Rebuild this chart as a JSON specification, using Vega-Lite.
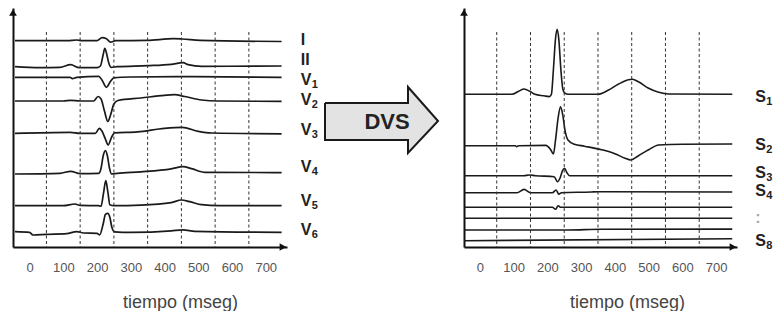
{
 "$schema": "https://vega.github.io/schema/vega-lite/v6.json",
 "background": "white",
 "padding": {"left": 9, "top": 8, "right": 0, "bottom": 0},
 "bounds": "flush",
 "spacing": 20,
 "config": {"view": {"stroke": null}, "axis": {"grid": false, "labelOverlap": false}},
 "datasets": {
  "grid": [{"t":50},{"t":150},{"t":250},{"t":350},{"t":450},{"t":550},{"t":650}],
  "leftHeads": [{"t":-49,"y":234.5,"dir":"up"},{"t":751,"y":0,"dir":"right"}],
  "rightHeads": [{"t":-47,"y":234.5,"dir":"up"},{"t":750,"y":0,"dir":"right"}],
  "left": [
   {"lead":"I","t":-43,"y":206.3},{"lead":"I","t":112,"y":206.3},{"lead":"I","t":140,"y":207.0},{"lead":"I","t":155,"y":206.3},{"lead":"I","t":200,"y":206.3},{"lead":"I","t":215,"y":209.3},{"lead":"I","t":228,"y":208.3},{"lead":"I","t":240,"y":204.8},{"lead":"I","t":255,"y":206.3},{"lead":"I","t":348,"y":206.6},{"lead":"I","t":427,"y":208.3},{"lead":"I","t":452,"y":208.0},{"lead":"I","t":506,"y":206.6},{"lead":"I","t":747,"y":205.5},
   {"lead":"II","t":-43,"y":180.3},{"lead":"II","t":30,"y":179.3},{"lead":"II","t":90,"y":179.7},{"lead":"II","t":122,"y":182.3},{"lead":"II","t":147,"y":179.3},{"lead":"II","t":200,"y":179.3},{"lead":"II","t":210,"y":181},{"lead":"II","t":218,"y":192},{"lead":"II","t":223,"y":198.7},{"lead":"II","t":228,"y":194},{"lead":"II","t":234,"y":185},{"lead":"II","t":242,"y":179.7},{"lead":"II","t":260,"y":180.3},{"lead":"II","t":350,"y":181.3},{"lead":"II","t":420,"y":182.7},{"lead":"II","t":455,"y":184.3},{"lead":"II","t":470,"y":182.3},{"lead":"II","t":510,"y":180.7},{"lead":"II","t":747,"y":181},
   {"lead":"V1","t":-43,"y":169.7},{"lead":"V1","t":120,"y":169.7},{"lead":"V1","t":127,"y":168.4},{"lead":"V1","t":140,"y":169.7},{"lead":"V1","t":205,"y":170.7},{"lead":"V1","t":215,"y":166.7},{"lead":"V1","t":228,"y":159.7},{"lead":"V1","t":240,"y":165.7},{"lead":"V1","t":250,"y":169.2},{"lead":"V1","t":300,"y":170},{"lead":"V1","t":440,"y":170.4},{"lead":"V1","t":747,"y":169.7},
   {"lead":"V2","t":-43,"y":146},{"lead":"V2","t":100,"y":146},{"lead":"V2","t":122,"y":146.7},{"lead":"V2","t":150,"y":146},{"lead":"V2","t":190,"y":146},{"lead":"V2","t":203,"y":150.5},{"lead":"V2","t":212,"y":148},{"lead":"V2","t":222,"y":136},{"lead":"V2","t":232,"y":125.5},{"lead":"V2","t":240,"y":132},{"lead":"V2","t":250,"y":143},{"lead":"V2","t":262,"y":146.5},{"lead":"V2","t":330,"y":149},{"lead":"V2","t":400,"y":151.7},{"lead":"V2","t":430,"y":152.3},{"lead":"V2","t":460,"y":150.5},{"lead":"V2","t":510,"y":147},{"lead":"V2","t":560,"y":146},{"lead":"V2","t":747,"y":145.7},
   {"lead":"V3","t":-43,"y":113.7},{"lead":"V3","t":120,"y":114.7},{"lead":"V3","t":150,"y":113.7},{"lead":"V3","t":195,"y":113.7},{"lead":"V3","t":207,"y":118.7},{"lead":"V3","t":215,"y":115.7},{"lead":"V3","t":224,"y":108.7},{"lead":"V3","t":233,"y":102.2},{"lead":"V3","t":243,"y":109.7},{"lead":"V3","t":252,"y":114.2},{"lead":"V3","t":320,"y":115.2},{"lead":"V3","t":400,"y":118.7},{"lead":"V3","t":452,"y":119.7},{"lead":"V3","t":500,"y":115.7},{"lead":"V3","t":540,"y":114},{"lead":"V3","t":747,"y":113.2},
   {"lead":"V4","t":-43,"y":73},{"lead":"V4","t":90,"y":73.7},{"lead":"V4","t":122,"y":75.7},{"lead":"V4","t":150,"y":73.4},{"lead":"V4","t":205,"y":73.7},{"lead":"V4","t":212,"y":78.7},{"lead":"V4","t":218,"y":90.7},{"lead":"V4","t":225,"y":96.4},{"lead":"V4","t":231,"y":90.7},{"lead":"V4","t":237,"y":78.7},{"lead":"V4","t":243,"y":73},{"lead":"V4","t":260,"y":73.7},{"lead":"V4","t":330,"y":75.2},{"lead":"V4","t":420,"y":78.2},{"lead":"V4","t":455,"y":80.4},{"lead":"V4","t":480,"y":78.4},{"lead":"V4","t":520,"y":74.7},{"lead":"V4","t":747,"y":74.4},
   {"lead":"V5","t":-43,"y":41.3},{"lead":"V5","t":100,"y":41.3},{"lead":"V5","t":135,"y":43},{"lead":"V5","t":150,"y":41.6},{"lead":"V5","t":205,"y":41.3},{"lead":"V5","t":212,"y":40.8},{"lead":"V5","t":219,"y":53.3},{"lead":"V5","t":226,"y":66.3},{"lead":"V5","t":232,"y":55.3},{"lead":"V5","t":238,"y":42.3},{"lead":"V5","t":250,"y":41.3},{"lead":"V5","t":330,"y":41.8},{"lead":"V5","t":420,"y":44.3},{"lead":"V5","t":450,"y":47},{"lead":"V5","t":475,"y":45.3},{"lead":"V5","t":510,"y":42.3},{"lead":"V5","t":560,"y":41.3},{"lead":"V5","t":747,"y":41.3},
   {"lead":"V6","t":-43,"y":15.4},{"lead":"V6","t":0,"y":14.7},{"lead":"V6","t":10,"y":12},{"lead":"V6","t":50,"y":12.7},{"lead":"V6","t":110,"y":13.4},{"lead":"V6","t":140,"y":15.4},{"lead":"V6","t":160,"y":14},{"lead":"V6","t":200,"y":13.7},{"lead":"V6","t":208,"y":12.2},{"lead":"V6","t":218,"y":22.7},{"lead":"V6","t":225,"y":32.7},{"lead":"V6","t":232,"y":33.7},{"lead":"V6","t":238,"y":29.7},{"lead":"V6","t":244,"y":19.7},{"lead":"V6","t":252,"y":15.2},{"lead":"V6","t":300,"y":14.7},{"lead":"V6","t":420,"y":16.2},{"lead":"V6","t":455,"y":17.2},{"lead":"V6","t":490,"y":15.7},{"lead":"V6","t":747,"y":14.7}
  ],
  "right": [
   {"lead":"S1","t":-47,"y":152.7},{"lead":"S1","t":95,"y":152.7},{"lead":"S1","t":115,"y":155.7},{"lead":"S1","t":131,"y":158},{"lead":"S1","t":148,"y":155.7},{"lead":"S1","t":163,"y":152.7},{"lead":"S1","t":190,"y":151.2},{"lead":"S1","t":205,"y":150.4},{"lead":"S1","t":212,"y":152.7},{"lead":"S1","t":218,"y":177.7},{"lead":"S1","t":224,"y":207.7},{"lead":"S1","t":229,"y":217.7},{"lead":"S1","t":234,"y":207.7},{"lead":"S1","t":240,"y":177.7},{"lead":"S1","t":246,"y":157.7},{"lead":"S1","t":252,"y":153.7},{"lead":"S1","t":262,"y":152.7},{"lead":"S1","t":350,"y":152.7},{"lead":"S1","t":380,"y":156.7},{"lead":"S1","t":410,"y":162.7},{"lead":"S1","t":440,"y":167.2},{"lead":"S1","t":452,"y":167.7},{"lead":"S1","t":470,"y":165.2},{"lead":"S1","t":500,"y":158.7},{"lead":"S1","t":530,"y":154.7},{"lead":"S1","t":560,"y":153},{"lead":"S1","t":748,"y":152.7},
   {"lead":"S2","t":-47,"y":101.3},{"lead":"S2","t":105,"y":101.3},{"lead":"S2","t":109,"y":100.3},{"lead":"S2","t":115,"y":101.3},{"lead":"S2","t":195,"y":101.6},{"lead":"S2","t":210,"y":97.3},{"lead":"S2","t":218,"y":93},{"lead":"S2","t":224,"y":106.3},{"lead":"S2","t":232,"y":129.3},{"lead":"S2","t":239,"y":140.3},{"lead":"S2","t":245,"y":133.3},{"lead":"S2","t":253,"y":115.3},{"lead":"S2","t":261,"y":107},{"lead":"S2","t":280,"y":102.8},{"lead":"S2","t":310,"y":100.8},{"lead":"S2","t":360,"y":97.3},{"lead":"S2","t":400,"y":93.3},{"lead":"S2","t":430,"y":88.8},{"lead":"S2","t":447,"y":87},{"lead":"S2","t":470,"y":91.3},{"lead":"S2","t":500,"y":97.3},{"lead":"S2","t":530,"y":102},{"lead":"S2","t":600,"y":102.8},{"lead":"S2","t":748,"y":103},
   {"lead":"S3","t":-47,"y":71.3},{"lead":"S3","t":130,"y":71.3},{"lead":"S3","t":146,"y":72},{"lead":"S3","t":165,"y":71.3},{"lead":"S3","t":220,"y":70.3},{"lead":"S3","t":230,"y":65.3},{"lead":"S3","t":238,"y":69.3},{"lead":"S3","t":245,"y":76.3},{"lead":"S3","t":251,"y":78.6},{"lead":"S3","t":258,"y":74.3},{"lead":"S3","t":266,"y":71.3},{"lead":"S3","t":748,"y":71.3},
   {"lead":"S4","t":-47,"y":54.3},{"lead":"S4","t":110,"y":54.3},{"lead":"S4","t":131,"y":57.6},{"lead":"S4","t":150,"y":54.3},{"lead":"S4","t":215,"y":54.3},{"lead":"S4","t":226,"y":57},{"lead":"S4","t":234,"y":52.8},{"lead":"S4","t":242,"y":54.3},{"lead":"S4","t":330,"y":55},{"lead":"S4","t":350,"y":55.3},{"lead":"S4","t":748,"y":55},
   {"lead":"S5","t":-47,"y":39.7},{"lead":"S5","t":215,"y":39.7},{"lead":"S5","t":224,"y":37.7},{"lead":"S5","t":232,"y":41.2},{"lead":"S5","t":240,"y":39.7},{"lead":"S5","t":748,"y":39.7},
   {"lead":"S6","t":-47,"y":28.7},{"lead":"S6","t":748,"y":28.7},
   {"lead":"S7","t":-47,"y":17},{"lead":"S7","t":260,"y":17},{"lead":"S7","t":360,"y":17.7},{"lead":"S7","t":748,"y":17.9},
   {"lead":"S8","t":-47,"y":6.3},{"lead":"S8","t":748,"y":8.3}
  ],
  "leftLabels": [
   {"main":"I","sub":"","y":207},{"main":"II","sub":"","y":187},{"main":"V","sub":"1","y":167},{"main":"V","sub":"2","y":147},
   {"main":"V","sub":"3","y":117},{"main":"V","sub":"4","y":80},{"main":"V","sub":"5","y":46},{"main":"V","sub":"6","y":17}
  ],
  "rightLabels": [
   {"main":"S","sub":"1","y":150},{"main":"S","sub":"2","y":102},{"main":"S","sub":"3","y":74},{"main":"S","sub":"4","y":56},
   {"main":":","sub":"","y":29},{"main":"S","sub":"8","y":6}
  ],
  "arrowBody": [{"x1":18,"x2":101,"y1":107,"y2":144}],
  "arrowHead": [{"x":101,"top":160,"bot":94},{"x":131,"top":126,"bot":126}],
  "arrowOutline": [
   {"i":0,"x":18,"y":144},{"i":1,"x":101,"y":144},{"i":2,"x":101,"y":160},{"i":3,"x":131,"y":126},
   {"i":4,"x":101,"y":94},{"i":5,"x":101,"y":107},{"i":6,"x":18,"y":107},{"i":7,"x":18,"y":144}
  ]
 },
 "hconcat": [
  {
   "width": 274, "height": 239,
   "layer": [
    {
     "data": {"name": "left"},
     "mark": {"type": "line", "color": "#1a1a1a", "strokeWidth": 1.7, "interpolate": "monotone"},
     "encoding": {
      "x": {"field": "t", "type": "quantitative", "scale": {"domain": [-49, 763], "nice": false, "zero": false},
            "axis": {"values": [0,100,200,300,400,500,600,700], "tickCount": 8, "domain": true, "domainColor": "#111", "domainWidth": 2, "ticks": false, "tickSize": 0,
                     "labelFont": "Liberation Sans", "labelFontSize": 13, "labelColor": "#555", "labelPadding": 20, "labelBaseline": "middle", "labelFlush": false, "labelOverlap": false, "labelBound": false, "labelSeparation": 0,
                     "title": "tiempo (mseg)", "titleFont": "Liberation Sans", "titleFontSize": 18, "titleFontWeight": "normal", "titleColor": "#444",
                     "titleX": 167, "titleY": 60, "titleBaseline": "alphabetic", "titleAlign": "center", "grid": false}},
      "y": {"field": "y", "type": "quantitative", "scale": {"domain": [0, 239], "nice": false, "zero": false},
            "axis": {"domain": true, "domainColor": "#111", "domainWidth": 2, "ticks": false, "labels": false, "title": null, "grid": false}},
      "detail": {"field": "lead"}
     }
    },
    {
     "data": {"name": "grid"},
     "mark": {"type": "rule", "color": "#333", "strokeWidth": 1, "strokeDash": [3, 2.5]},
     "encoding": {
      "x": {"field": "t", "type": "quantitative"},
      "y": {"datum": 215, "type": "quantitative"},
      "y2": {"datum": 0}
     }
    },
    {
     "data": {"name": "leftHeads"},
     "mark": {"type": "point", "filled": true, "size": 60, "color": "#111", "opacity": 1},
     "encoding": {
      "x": {"field": "t", "type": "quantitative"},
      "y": {"field": "y", "type": "quantitative"},
      "shape": {"field": "dir", "type": "nominal", "scale": {"domain": ["up", "right"], "range": ["triangle-up", "triangle-right"]}, "legend": null}
     }
    },
    {
     "data": {"name": "leftLabels"},
     "mark": {"type": "text", "align": "left", "baseline": "middle", "font": "Liberation Sans", "fontSize": 16, "fontWeight": "bold", "color": "#222"},
     "encoding": {"x": {"datum": 804, "type": "quantitative"}, "y": {"field": "y", "type": "quantitative"}, "text": {"field": "main"}}
    },
    {
     "data": {"name": "leftLabels"},
     "mark": {"type": "text", "align": "left", "baseline": "middle", "font": "Liberation Sans", "fontSize": 11, "fontWeight": "bold", "color": "#222", "dx": 11, "dy": 5},
     "encoding": {"x": {"datum": 804, "type": "quantitative"}, "y": {"field": "y", "type": "quantitative"}, "text": {"field": "sub"}}
    }
   ]
  },
  {
   "width": 137, "height": 239,
   "layer": [
    {
     "data": {"name": "arrowBody"},
     "mark": {"type": "rect", "fill": "#e3e3e3", "strokeWidth": 0},
     "encoding": {
      "x": {"field": "x1", "type": "quantitative", "scale": {"domain": [0, 137], "nice": false, "zero": false}, "axis": null},
      "x2": {"field": "x2"},
      "y": {"field": "y1", "type": "quantitative", "scale": {"domain": [0, 239], "nice": false, "zero": false}, "axis": null},
      "y2": {"field": "y2"}
     }
    },
    {
     "data": {"name": "arrowHead"},
     "mark": {"type": "area", "fill": "#e3e3e3", "interpolate": "linear", "opacity": 1},
     "encoding": {
      "x": {"field": "x", "type": "quantitative"},
      "y": {"field": "top", "type": "quantitative"},
      "y2": {"field": "bot"}
     }
    },
    {
     "data": {"name": "arrowOutline"},
     "mark": {"type": "line", "color": "#1a1a1a", "strokeWidth": 2, "strokeJoin": "miter", "interpolate": "linear"},
     "encoding": {
      "x": {"field": "x", "type": "quantitative"},
      "y": {"field": "y", "type": "quantitative"},
      "order": {"field": "i", "type": "quantitative"}
     }
    },
    {
     "data": {"values": [{"label": "DVS"}]},
     "mark": {"type": "text", "align": "center", "baseline": "middle", "font": "Liberation Sans", "fontSize": 22, "fontWeight": "bold", "color": "#222"},
     "encoding": {"x": {"datum": 80, "type": "quantitative"}, "y": {"datum": 125.5, "type": "quantitative"}, "text": {"field": "label"}}
    }
   ]
  },
  {
   "width": 273, "height": 239,
   "layer": [
    {
     "data": {"name": "right"},
     "mark": {"type": "line", "color": "#1a1a1a", "strokeWidth": 1.6, "interpolate": "monotone"},
     "encoding": {
      "x": {"field": "t", "type": "quantitative", "scale": {"domain": [-47, 762], "nice": false, "zero": false},
            "axis": {"values": [0,100,200,300,400,500,600,700], "tickCount": 8, "domain": true, "domainColor": "#111", "domainWidth": 2, "ticks": false, "tickSize": 0,
                     "labelFont": "Liberation Sans", "labelFontSize": 13, "labelColor": "#555", "labelPadding": 20, "labelBaseline": "middle", "labelFlush": false, "labelOverlap": false, "labelBound": false, "labelSeparation": 0,
                     "title": "tiempo (mseg)", "titleFont": "Liberation Sans", "titleFontSize": 18, "titleFontWeight": "normal", "titleColor": "#444",
                     "titleX": 163, "titleY": 60, "titleBaseline": "alphabetic", "titleAlign": "center", "grid": false}},
      "y": {"field": "y", "type": "quantitative", "scale": {"domain": [0, 239], "nice": false, "zero": false},
            "axis": {"domain": true, "domainColor": "#111", "domainWidth": 2, "ticks": false, "labels": false, "title": null, "grid": false}},
      "detail": {"field": "lead"}
     }
    },
    {
     "data": {"name": "grid"},
     "mark": {"type": "rule", "color": "#333", "strokeWidth": 1, "strokeDash": [3, 2.5]},
     "encoding": {
      "x": {"field": "t", "type": "quantitative"},
      "y": {"datum": 215, "type": "quantitative"},
      "y2": {"datum": 0}
     }
    },
    {
     "data": {"name": "rightHeads"},
     "mark": {"type": "point", "filled": true, "size": 60, "color": "#111", "opacity": 1},
     "encoding": {
      "x": {"field": "t", "type": "quantitative"},
      "y": {"field": "y", "type": "quantitative"},
      "shape": {"field": "dir", "type": "nominal", "scale": {"domain": ["up", "right"], "range": ["triangle-up", "triangle-right"]}, "legend": null}
     }
    },
    {
     "data": {"name": "rightLabels"},
     "mark": {"type": "text", "align": "left", "baseline": "middle", "font": "Liberation Sans", "fontSize": 16, "fontWeight": "bold"},
     "encoding": {"x": {"datum": 816, "type": "quantitative"}, "y": {"field": "y", "type": "quantitative"}, "text": {"field": "main"},
                  "color": {"condition": {"test": "datum.main === ':'", "value": "#aaa"}, "value": "#222"}}
    },
    {
     "data": {"name": "rightLabels"},
     "mark": {"type": "text", "align": "left", "baseline": "middle", "font": "Liberation Sans", "fontSize": 11, "fontWeight": "bold", "color": "#222", "dx": 11, "dy": 5},
     "encoding": {"x": {"datum": 816, "type": "quantitative"}, "y": {"field": "y", "type": "quantitative"}, "text": {"field": "sub"}}
    }
   ]
  }
 ]
}
